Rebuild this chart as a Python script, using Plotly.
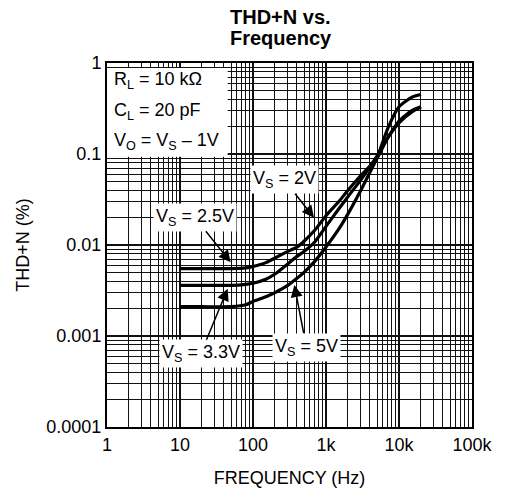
import plotly.graph_objects as go

# frequency points (Hz) shared by the three curves
freq = [10, 20, 50, 80, 100, 150, 200, 300, 400, 500, 700, 1000, 1500, 2000,
        3000, 4000, 5000, 7000, 10000, 15000, 20000]

# THD+N (%)
thd_2v5 = [0.0055, 0.0055, 0.0055, 0.0056, 0.0058, 0.0064, 0.0072, 0.0085, 0.0095,
           0.011, 0.0145, 0.021, 0.030, 0.040, 0.058, 0.074, 0.095, 0.15, 0.23, 0.30, 0.33]
thd_3v3 = [0.0036, 0.0036, 0.0036, 0.0037, 0.0038, 0.0042, 0.0048, 0.0062, 0.0075,
           0.0085, 0.0108, 0.016, 0.025, 0.034, 0.052, 0.072, 0.09, 0.15, 0.22, 0.29, 0.33]
thd_5v = [0.0021, 0.0021, 0.0021, 0.0022, 0.0024, 0.0027, 0.0030, 0.0036, 0.0043,
          0.0050, 0.0066, 0.0095, 0.015, 0.022, 0.040, 0.063, 0.09, 0.19, 0.33, 0.42, 0.45]

x_ticks = [1, 10, 100, 1000, 10000, 100000]
x_tick_text = ["1", "10", "100", "1k", "10k", "100k"]
y_ticks = [0.0001, 0.001, 0.01, 0.1, 1]
y_tick_text = ["0.0001", "0.001", "0.01", "0.1", "1"]

FONT = "Liberation Sans, Arial, sans-serif"
# the page body has an 8px margin, so the figure is sized to fit inside the window
W, H = 497, 489
L, R, T, B = 99, 26, 55, 65
PW, PH = W - L - R, H - T - B
GRID = "#111111"

fig = go.Figure()
for ys in (thd_2v5, thd_3v3, thd_5v):
    fig.add_trace(go.Scatter(x=freq, y=ys, mode="lines",
                             line=dict(color="black", width=3.2, shape="spline", smoothing=0.6),
                             showlegend=False, hoverinfo="skip"))

# minor grid at 2..9 of every decade
x_minor = [m * 10 ** d for d in range(0, 5) for m in range(2, 10)]
y_minor = [m * 10 ** d for d in range(-4, 0) for m in range(2, 10)]

axis_common = dict(type="log", showline=True, linecolor="black", linewidth=2, mirror=True,
                   showgrid=True, gridcolor=GRID, gridwidth=1.5, ticks="",
                   tickfont=dict(size=18, color="black", family=FONT), zeroline=False)

fig.update_xaxes(range=[0, 5], tickvals=x_ticks, ticktext=x_tick_text,
                 minor=dict(tickvals=x_minor, showgrid=True, gridcolor=GRID, gridwidth=1.4),
                 title=dict(text="FREQUENCY (Hz)", font=dict(size=18, color="black", family=FONT),
                            standoff=18),
                 **axis_common)
fig.update_yaxes(range=[-4, 0], tickvals=y_ticks, ticktext=y_tick_text,
                 minor=dict(tickvals=y_minor, showgrid=True, gridcolor=GRID, gridwidth=1.4),
                 title=dict(text="THD+N (%)", font=dict(size=18, color="black", family=FONT),
                            standoff=12),
                 **axis_common)

# white box behind the conditions text
fig.add_shape(type="rect", xref="paper", yref="paper", x0=0, x1=123 / PW,
              y0=1 - 95 / PH, y1=1 - 5 / PH, fillcolor="white", line=dict(width=0),
              layer="above")

cond_lines = ["R<sub>L</sub> = 10 kΩ", "C<sub>L</sub> = 20 pF", "V<sub>O</sub> = V<sub>S</sub> – 1V"]
for i, txt in enumerate(cond_lines):
    fig.add_annotation(x=5 / PW, y=1 - (18 + 31 * i) / PH, xref="paper", yref="paper",
                       text=txt, showarrow=False, xanchor="left", yanchor="middle",
                       font=dict(size=18, color="black", family=FONT))

# curve labels with arrows: (text, tip log-f, tip log-thd, ax, ay)
labels = [
    ("V<sub>S</sub> = 2V", 2.836, -1.70, -30, -38),
    ("V<sub>S</sub> = 2.5V", 1.694, -2.19, -36, -45),
    ("V<sub>S</sub> = 3.3V", 1.653, -2.48, -27, 65),
    ("V<sub>S</sub> = 5V", 2.567, -2.44, 12, 62),
]
for txt, lx, ly, ax, ay in labels:
    fig.add_annotation(x=lx, y=ly, xref="x", yref="y", text=txt, showarrow=True,
                       ax=ax, ay=ay, arrowhead=2, arrowsize=1.6, arrowwidth=1.5,
                       arrowcolor="black", bgcolor="white", borderpad=2,
                       font=dict(size=18, color="black", family=FONT))

# two-line bold title
for i, t in enumerate(["THD+N vs.", "Frequency"]):
    fig.add_annotation(x=(276 - L) / PW, y=1 + (T - 8 - 22 * i) / PH, xref="paper", yref="paper",
                       xanchor="center", yanchor="middle", showarrow=False,
                       text=f"<b>{t}</b>", font=dict(size=20, color="black", family=FONT))

fig.update_layout(width=W, height=H, margin=dict(l=L, r=R, t=T, b=B),
                  paper_bgcolor="white", plot_bgcolor="white",
                  font=dict(family=FONT, color="black"))

fig.write_html("out.html")
